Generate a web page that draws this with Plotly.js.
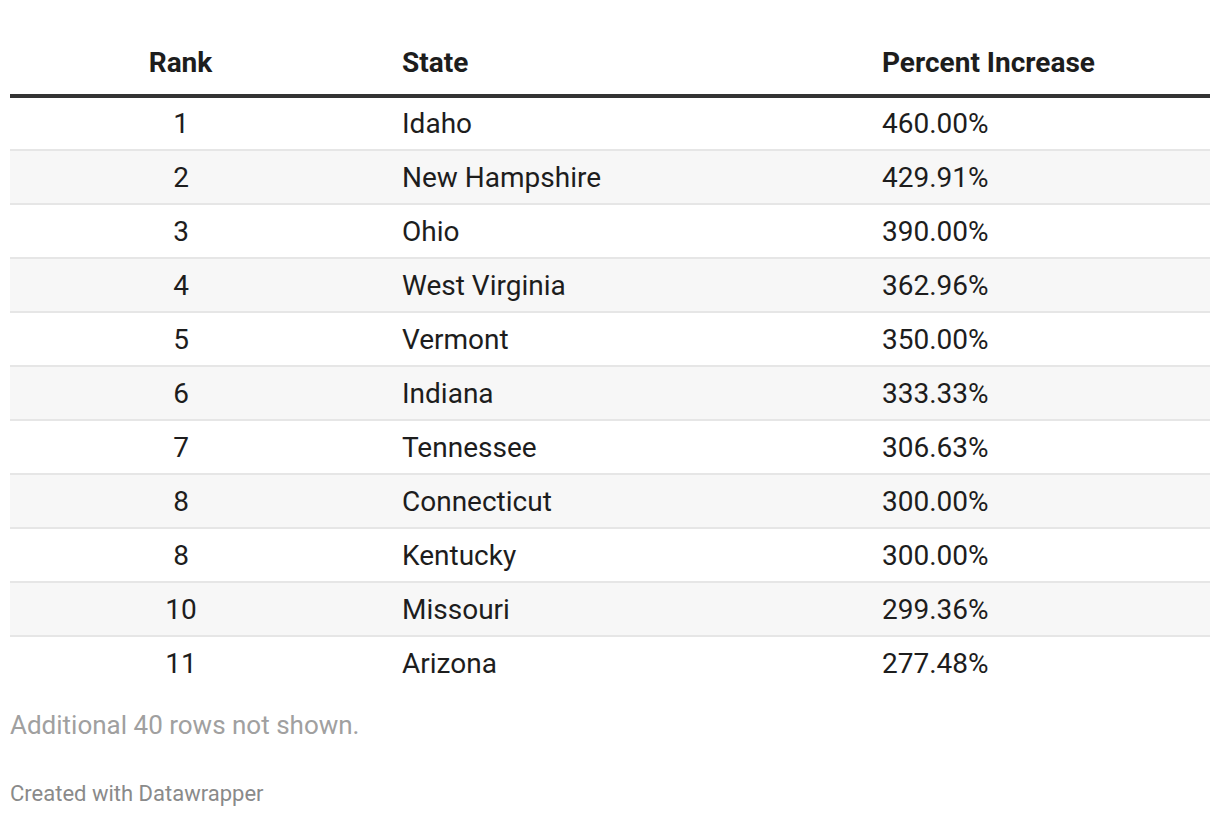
<!DOCTYPE html>
<html>
<head>
<meta charset="utf-8">
<script src="https://cdn.plot.ly/plotly-3.0.1.min.js"></script>
<style>
  html, body { margin: 0; padding: 0; background: #ffffff; }
  #chart { width: 1220px; height: 816px; }
</style>
</head>
<body>
<div id="chart"></div>
<script>
const headers = ["Rank", "", "State", "Percent Increase"];
const ranks = ["1", "2", "3", "4", "5", "6", "7", "8", "8", "10", "11"];
const states = ["Idaho", "New Hampshire", "Ohio", "West Virginia", "Vermont", "Indiana",
                "Tennessee", "Connecticut", "Kentucky", "Missouri", "Arizona"];
const percentIncrease = ["460.00%", "429.91%", "390.00%", "362.96%", "350.00%", "333.33%",
                         "306.63%", "300.00%", "300.00%", "299.36%", "277.48%"];
const footnote = "Additional 40 rows not shown.";
const credit = "Created with Datawrapper";

const W = 1220, H = 816;
const HEADER_H = 58, ROW_H = 54, HEADER_BOTTOM = 96, BODY_TEXT_SHIFT = 8;
const spacer = ranks.map(() => "");
const rowFill = ranks.map((_, i) => (i % 2 === 0 ? "#ffffff" : "#f7f7f7"));
const rowLine = ranks.map((_, i) => (i === 0 ? "#333333" : "#e6e6e6"));
const FONT = "Roboto, 'Noto Sans', sans-serif";

const trace = {
  type: "table",
  domain: { x: [10 / W, 1210 / W], y: [1 - 712 / H, 1 - (HEADER_BOTTOM - HEADER_H) / H] },
  columnwidth: [342, 42, 480, 336],
  columnorder: [0, 1, 2, 3],
  header: {
    values: headers.map(h => "<b>" + h + "</b>"),
    align: ["center", "left", "left", "left"],
    height: HEADER_H,
    fill: { color: "#ffffff" },
    line: { color: "#333333", width: 4 },
    font: { family: FONT, size: 28, color: "#1d1d1d" }
  },
  cells: {
    values: [ranks, spacer, states, percentIncrease],
    align: ["center", "left", "left", "left"],
    height: ROW_H,
    fill: { color: headers.map(() => rowFill) },
    line: { color: headers.map(() => rowLine), width: 2 },
    font: { family: FONT, size: 28, color: "#1d1d1d" }
  }
};

const layout = {
  width: W, height: H,
  margin: { l: 0, r: 0, t: 0, b: 0 },
  paper_bgcolor: "#ffffff",
  showlegend: false,
  annotations: [
    { text: footnote, xref: "paper", yref: "paper", x: 8 / W, y: 1 - 725 / H,
      xanchor: "left", yanchor: "middle", showarrow: false,
      font: { family: FONT, size: 26, color: "#a0a0a0" } },
    { text: credit, xref: "paper", yref: "paper", x: 8 / W, y: 1 - 793 / H,
      xanchor: "left", yanchor: "middle", showarrow: false,
      font: { family: FONT, size: 22, color: "#8a8a8a" } }
  ]
};

function restyleTable(gd) {
  // Keep only horizontal rules: header cells draw their bottom edge, body cells their top edge.
  gd.querySelectorAll("rect.cell-rect").forEach(r => {
    const w = parseFloat(r.getAttribute("width")) || 0;
    const h = parseFloat(r.getAttribute("height")) || 0;
    const sw = parseFloat(r.getAttribute("stroke-width") || getComputedStyle(r).strokeWidth) || 0;
    if (sw >= 3) {
      r.setAttribute("stroke-dasharray", `0 ${w + h} ${w} ${h}`);
    } else {
      r.setAttribute("stroke-dasharray", `${w} ${w + 2 * h}`);
    }
  });
  // Centre body text vertically within its row (Plotly top-aligns cell text).
  const top = gd.getBoundingClientRect().top;
  gd.querySelectorAll("text.cell-text").forEach(t => {
    if (t.dataset.bodyText === undefined) {
      const b = t.getBoundingClientRect();
      t.dataset.bodyText = (b.height > 0 && b.top - top > HEADER_BOTTOM) ? "1" : "0";
    }
    if (t.dataset.bodyText === "1") t.setAttribute("transform", `translate(0,${BODY_TEXT_SHIFT})`);
  });
}

Plotly.newPlot("chart", [trace], layout, { displayModeBar: false, staticPlot: true }).then(gd => {
  restyleTable(gd);
  setTimeout(() => restyleTable(gd), 200);
  setTimeout(() => restyleTable(gd), 800);
});
</script>
</body>
</html>
